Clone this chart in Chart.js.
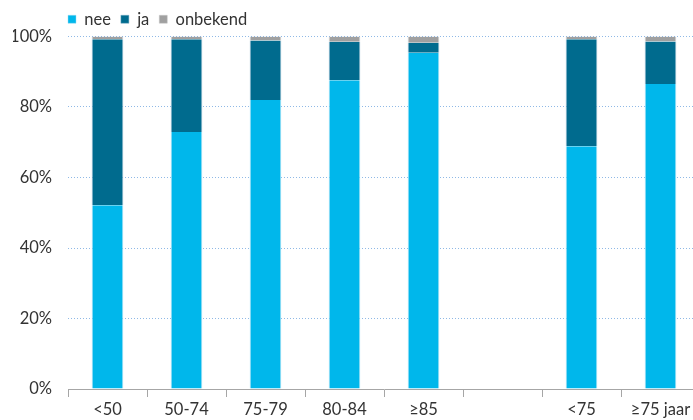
<!DOCTYPE html>
<html>
<head>
<meta charset="utf-8">
<script src="https://cdn.jsdelivr.net/npm/chart.js@4/dist/chart.umd.min.js"></script>
<style>
  html, body { margin: 0; padding: 0; overflow: hidden; background: #fff; }
  #wrap { position: relative; width: 700px; height: 420px; }
</style>
</head>
<body>
<div id="wrap"><canvas id="c"></canvas></div>
<script>
const categories = ['<50', '50-74', '75-79', '80-84', '≥85', '', '<75', '≥75 jaar'];
const nee      = [52.1, 72.9, 82.0, 87.6, 95.4, null, 68.9, 86.5];
const ja       = [47.1, 26.3, 16.9, 10.9,  2.8, null, 30.3, 12.1];
const onbekend = [ 0.8,  0.8,  1.1,  1.5,  1.8, null,  0.8,  1.4];
const seriesNames = ['nee', 'ja', 'onbekend'];
const yTicks = [0, 20, 40, 60, 80, 100];

const FONT = 'Lato, "Open Sans", sans-serif';
const FS = 16.5;
const TXT = '#333333';

function ds(label, data, color, border) {
  return {
    label, data,
    backgroundColor: color,
    borderColor: border,
    borderWidth: { left: 1, right: 1, top: 0, bottom: 0 },
    borderSkipped: false,
    categoryPercentage: 1.0,
    barPercentage: 0.4,
  };
}

const legendShift = {
  id: 'legendShift',
  afterLayout(chart) {
    const lg = chart.legend;
    if (!lg) return;
    lg.left = chart.chartArea.left - 10;
    lg.top = 1;
  }
};

new Chart(document.getElementById('c'), {
  type: 'bar',
  data: {
    labels: categories,
    datasets: [
      ds(seriesNames[0], nee, '#00b7eb', 'rgba(150,220,245,0.9)'),
      ds(seriesNames[1], ja, '#006b8e', 'rgba(120,170,195,0.9)'),
      ds(seriesNames[2], onbekend, '#a0a0a0', 'rgba(200,200,200,0.9)'),
    ]
  },
  plugins: [legendShift],
  options: {
    responsive: true,
    maintainAspectRatio: false,
    animation: false,
    layout: { padding: { left: 13, right: 0, top: 0, bottom: 0 } },
    plugins: {
      tooltip: { enabled: false },
      legend: {
        position: 'top',
        align: 'start',
        fullSize: false,
        labels: {
          boxWidth: 8,
          boxHeight: 8,
          padding: 10,
          color: TXT,
          font: { family: FONT, size: FS }
        }
      }
    },
    scales: {
      x: {
        stacked: true,
        afterFit: (axis) => { axis.height = 31; },
        grid: {
          offset: true,
          drawOnChartArea: false,
          drawTicks: true,
          tickLength: 8,
          color: '#a6a6a6'
        },
        border: { display: true, color: '#a6a6a6', width: 1 },
        ticks: {
          color: TXT,
          font: { family: FONT, size: FS },
          maxRotation: 0,
          autoSkip: false,
          padding: 3
        }
      },
      y: {
        stacked: true,
        min: 0,
        max: 100,
        afterFit: (axis) => { axis.width = 55; },
        afterBuildTicks: (axis) => { axis.ticks = yTicks.map(v => ({ value: v })); },
        grid: {
          drawTicks: false,
          color: (ctx) => ctx.tick && ctx.tick.value === 0 ? 'rgba(0,0,0,0)' : '#8fb9e6',
          lineWidth: 1
        },
        border: { display: false, dash: [1, 2] },
        ticks: {
          color: TXT,
          font: { family: FONT, size: FS },
          padding: 16,
          callback: (v) => v + '%'
        }
      }
    }
  }
});
</script>
</body>
</html>
